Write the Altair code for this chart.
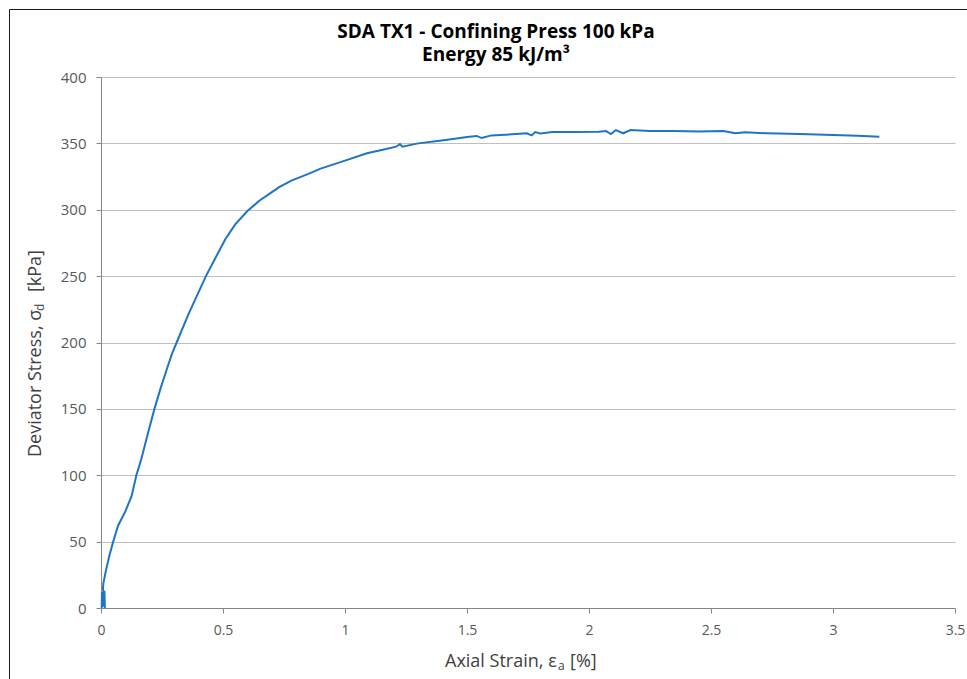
import altair as alt
import pandas as pd

# Triaxial test: deviator stress vs axial strain
strain = [0.003, 0.004, 0.007, 0.010, 0.012, 0.014, 0.016, 0.008, 0.010,
          0.020, 0.035, 0.050, 0.070, 0.100, 0.125, 0.145, 0.165, 0.190,
          0.219, 0.245, 0.270, 0.290, 0.310, 0.360, 0.430, 0.470, 0.510,
          0.550, 0.600, 0.650, 0.690, 0.730, 0.780, 0.850, 0.900, 0.950,
          1.000, 1.090, 1.150, 1.210, 1.225, 1.235, 1.300, 1.380, 1.450,
          1.500, 1.540, 1.560, 1.600, 1.700, 1.745, 1.765, 1.780, 1.800,
          1.850, 1.940, 2.040, 2.070, 2.090, 2.110, 2.140, 2.170, 2.250,
          2.350, 2.450, 2.550, 2.600, 2.640, 2.730, 2.865, 3.000, 3.100,
          3.190]
stress = [0.0, 12.0, 1.0, 13.0, 2.0, 13.0, 0.0, 15.0, 19.0,
          28.0, 40.0, 50.0, 62.0, 73.0, 84.0, 100.0, 112.0, 130.0,
          150.0, 166.0, 180.0, 191.0, 200.0, 222.0, 250.0, 264.0, 278.0,
          289.0, 299.0, 307.0, 312.0, 317.0, 322.0, 327.0, 331.0, 334.0,
          337.0, 342.5, 345.0, 347.5, 349.5, 347.5, 350.0, 351.8, 353.5,
          354.8, 355.6, 354.0, 356.0, 357.0, 357.6, 356.0, 358.5, 357.5,
          358.5, 358.5, 358.8, 359.3, 357.0, 360.0, 357.6, 360.0, 359.3,
          359.3, 359.0, 359.3, 357.6, 358.3, 357.6, 357.0, 356.3, 355.8,
          355.0]

x_ticks = [0, 0.5, 1, 1.5, 2, 2.5, 3, 3.5]
y_ticks = [0, 50, 100, 150, 200, 250, 300, 350, 400]

title_lines = ["SDA TX1 - Confining Press 100 kPa", "Energy 85 kJ/m³"]

FONT = "Open Sans"
W, H = 854, 531

df = pd.DataFrame({"i": range(len(strain)), "strain": strain, "stress": stress})
one = pd.DataFrame({"k": [0]})

curve = alt.Chart(df).mark_line(color="#1f74c4", strokeWidth=2).encode(
    x=alt.X("strain:Q", scale=alt.Scale(domain=[0, 3.5], nice=False),
            axis=alt.Axis(values=x_ticks, format="~g", title="", grid=False,
                          labelPadding=10, labelFlush=False, labelFontSize=14)),
    y=alt.Y("stress:Q", scale=alt.Scale(domain=[0, 400], nice=False),
            axis=alt.Axis(values=y_ticks, format="d", title="", grid=True,
                          labelPadding=10, labelFlush=False)),
    order="i:Q",
)


def label(text, x, y, size=18, weight="normal", align="left", angle=0,
          color="#404040", baseline="alphabetic", line_height=22):
    return alt.Chart(one).mark_text(
        text=text, font=FONT, fontSize=size, fontWeight=weight, align=align,
        baseline=baseline, angle=angle, color=color, lineHeight=line_height,
    ).encode(x=alt.value(x), y=alt.value(y))


# chart title, two centred lines in one text block
title = label(title_lines, 395, -39, size=19, weight="bold", align="center",
              color="#000000", line_height=23)

# x axis title with subscript
xt1 = label("Axial Strain, ε", 344, 590)
xt2 = label("a", 457, 593, size=12)
xt3 = label("[%]", 469, 590)

# y axis title (rotated) with subscript
yt1 = label("Deviator Stress, σ", -60, 380, angle=270)
yt2 = label("d", -57, 234, size=12, angle=270)
yt3 = label("[kPa]", -60, 173, align="right", angle=270)

frame = alt.Chart(one).mark_rect(fillOpacity=0, stroke="#1a1a1a", strokeWidth=1).encode(
    x=alt.value(-91.5), x2=alt.value(950), y=alt.value(-67.5), y2=alt.value(700)
)

chart = alt.layer(frame, curve, title, xt1, xt2, xt3, yt1, yt2, yt3).properties(
    width=W, height=H,
    autosize=alt.AutoSizeParams(type="none"),
    padding={"left": 101, "top": 77, "right": 12, "bottom": 71},
).configure(background="white").configure_view(stroke=None).configure_axis(
    labelFont=FONT, labelFontSize=15, labelColor="#595959",
    domainColor="#868686", tickColor="#868686", tickSize=5,
    gridColor="#bfbfbf", gridWidth=1,
)

chart.save("out.html", embed_options={"renderer": "svg", "actions": False})
